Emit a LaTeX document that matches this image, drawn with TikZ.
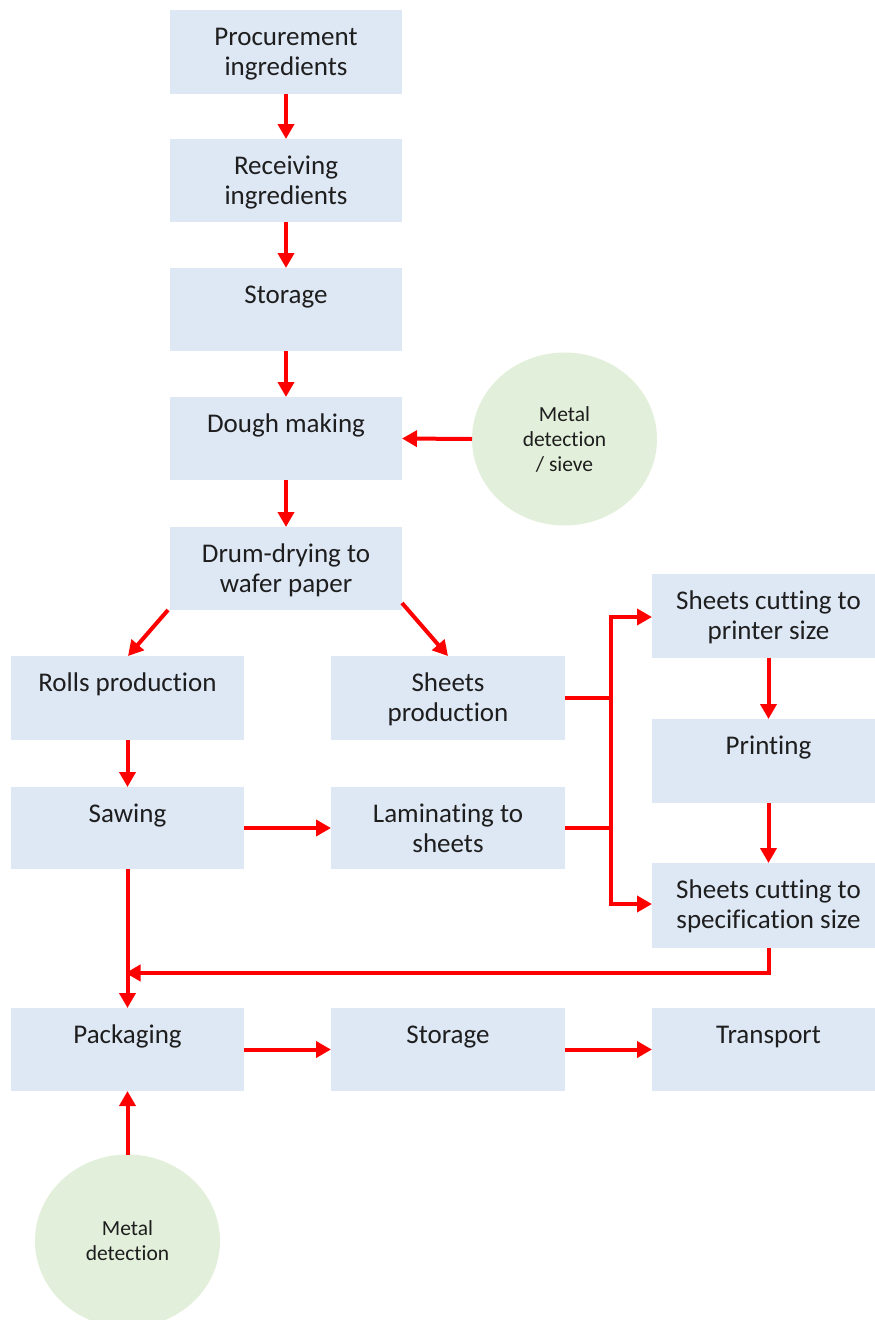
\documentclass[tikz,border=0pt]{standalone}
\usepackage{fontspec}
\setmainfont{Carlito}[Ligatures=NoCommon]
\usetikzlibrary{arrows.meta,shapes.geometric}
\definecolor{boxblue}{HTML}{DEE8F5}
\definecolor{ellgreen}{HTML}{E2EFDA}
\definecolor{txt}{HTML}{1E1E1E}
\definecolor{arr}{HTML}{FF0000}
\newcommand{\bxt}[3]{\parbox[c][#2pt][t]{#1pt}{\centering\rule{0pt}{35pt}#3}}
\tikzset{
  stepbox/.style={fill=boxblue, inner sep=0pt, outer sep=0pt, text=txt, font=\fontsize{27}{30}\selectfont},
  checkell/.style={ellipse, fill=ellgreen, inner sep=0pt, outer sep=0pt, minimum width=185pt, minimum height=173pt, text=txt, align=center, font=\fontsize{21.5}{25}\selectfont},
  flow/.style={draw=arr, line width=4pt, -{Triangle[width=16pt,length=15pt]}},
  flowline/.style={draw=arr, line width=4pt}
}
\begin{document}
\begin{tikzpicture}[x=1pt,y=-1pt]
\useasboundingbox (0,0) rectangle (875,1320);
\clip (0,0) rectangle (875,1320);
% boxes (center positions)
\node[stepbox] (proc) at (286,52) {\bxt{232}{84}{Procurement\\ingredients}};
\node[stepbox] (recv) at (286,180.5) {\bxt{232}{83}{Receiving\\ingredients}};
\node[stepbox] (stor1) at (286,309.5) {\bxt{232}{83}{Storage}};
\node[stepbox] (dough) at (286,438.5) {\bxt{232}{83}{Dough making}};
\node[stepbox] (drum) at (286,568.5) {\bxt{232}{83}{Drum-drying to\\wafer paper}};
\node[stepbox] (rolls) at (127.5,698) {\bxt{233}{84}{Rolls production}};
\node[stepbox] (sheets) at (448,698) {\bxt{234}{84}{Sheets\\production}};
\node[stepbox] (cutp) at (768.5,616) {\bxt{233}{84}{Sheets cutting to\\printer size}};
\node[stepbox] (print) at (768.5,761) {\bxt{233}{84}{Printing}};
\node[stepbox] (saw) at (127.5,828) {\bxt{233}{82}{Sawing}};
\node[stepbox] (lam) at (448,828) {\bxt{234}{82}{Laminating to\\sheets}};
\node[stepbox] (cuts) at (768.5,905.5) {\bxt{233}{85}{Sheets cutting to\\specification size}};
\node[stepbox] (pack) at (127.5,1049.5) {\bxt{233}{83}{Packaging}};
\node[stepbox] (stor2) at (448,1049.5) {\bxt{234}{83}{Storage}};
\node[stepbox] (trans) at (768.5,1049.5) {\bxt{233}{83}{Transport}};
% ellipses
\node[checkell] (md1) at (564.5,439) {Metal\\detection\\/ sieve};
\node[checkell] (md2) at (127.5,1241) {Metal\\detection};
% helper coordinates
\coordinate (brtop) at (611,617);
\coordinate (brbot) at (611,904);
\coordinate (corner) at (768.5,973);
\coordinate (join) at (127.5,973);
% arrows
\draw[flow] (proc.south) -- (recv.north);
\draw[flow] (recv.south) -- (stor1.north);
\draw[flow] (stor1.south) -- (dough.north);
\draw[flow] (md1.west) -- (dough.east);
\draw[flow] (dough.south) -- (drum.north);
\draw[flow] ([xshift=-2pt]drum.south west) -- ([xshift=0.5pt]rolls.north);
\draw[flow] ([yshift=7pt]drum.south east) -- (sheets.north);
\draw[flow] (rolls.south) -- (saw.north);
\draw[flow] (saw.east) -- (lam.west);
\draw[flowline] (sheets.east) -- (sheets.east -| brtop);
\draw[flowline] (lam.east) -- (lam.east -| brtop);
\draw[flowline] ([yshift=-2pt]brtop) -- ([yshift=2pt]brbot);
\draw[flow] ([xshift=-2pt]brtop) -- (brtop -| cutp.west);
\draw[flow] ([xshift=-2pt]brbot) -- (brbot -| cuts.west);
\draw[flow] (cutp.south) -- (print.north);
\draw[flow] (print.south) -- (cuts.north);
\draw[flow] (cuts.south) -- ([yshift=2pt]corner) -- (corner) -- ([xshift=-2pt]join);
\draw[flow] (saw.south) -- (pack.north);
\draw[flow] (pack.east) -- (stor2.west);
\draw[flow] (stor2.east) -- (trans.west);
\draw[flow] (md2.north) -- (pack.south);
\end{tikzpicture}
\end{document}
